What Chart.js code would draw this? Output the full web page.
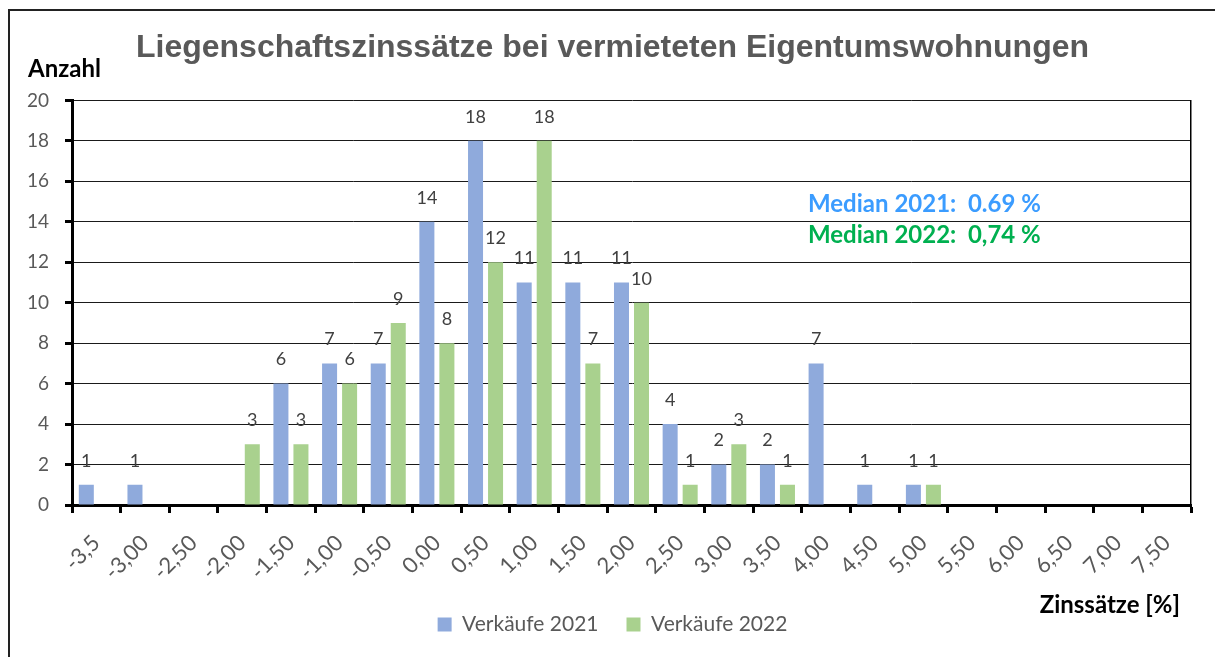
<!DOCTYPE html>
<html>
<head>
<meta charset="utf-8">
<script src="https://cdn.jsdelivr.net/npm/chart.js@4.4.0/dist/chart.umd.min.js"></script>
<style>
  html, body { margin: 0; padding: 0; background: #fff; }
  canvas { display: block; }
</style>
</head>
<body>
<canvas id="graph" width="1215" height="657"></canvas>
<script>
// categories (interest rate classes)
const zinsLabels = ['-3,5', '-3,00', '-2,50', '-2,00', '-1,50', '-1,00', '-0,50', '0,00', '0,50', '1,00', '1,50', '2,00',
  '2,50', '3,00', '3,50', '4,00', '4,50', '5,00', '5,50', '6,00', '6,50', '7,00', '7,50'];

// number of sales per class
const sales2021 = [1, 1, 0, 0, 6, 7, 7, 14, 18, 11, 11, 11, 4, 2, 2, 7, 1, 1, 0, 0, 0, 0, 0];
const sales2022 = [0, 0, 0, 3, 3, 6, 9, 8, 12, 18, 7, 10, 1, 3, 1, 0, 0, 1, 0, 0, 0, 0, 0];

const seriesNames = ['Verkäufe 2021', 'Verkäufe 2022'];
const medianTexts = ['Median 2021:  0.69 %', 'Median 2022:  0,74 %'];
const yTicks = [0, 2, 4, 6, 8, 10, 12, 14, 16, 18, 20];

const fontMain = 'Lato, "Open Sans", sans-serif';
const grayText = '#595959';

// frame, value labels and free texts
const extras = {
  id: 'extras',
  beforeDraw(chart) {
    const ctx = chart.ctx;
    ctx.save();
    ctx.fillStyle = '#fff';
    ctx.fillRect(0, 0, chart.width, chart.height);
    ctx.strokeStyle = '#222';
    ctx.lineWidth = 2;
    ctx.beginPath();
    ctx.moveTo(9, chart.height);
    ctx.lineTo(9, 10);
    ctx.lineTo(chart.width, 10);
    ctx.stroke();
    ctx.restore();
  },
  afterDatasetsDraw(chart) {
    const ctx = chart.ctx;
    ctx.save();
    ctx.font = '18px ' + fontMain;
    ctx.fillStyle = '#404040';
    ctx.textAlign = 'center';
    ctx.textBaseline = 'middle';
    chart.data.datasets.forEach((ds, i) => {
      chart.getDatasetMeta(i).data.forEach((bar, j) => {
        if (ds.data[j] > 0) ctx.fillText(ds.data[j], bar.x, bar.y - 24);
      });
    });
    ctx.restore();
  },
  afterDraw(chart) {
    const ctx = chart.ctx;
    ctx.save();
    ctx.fillStyle = '#000';
    ctx.font = 'bold 24px ' + fontMain;
    ctx.textBaseline = 'alphabetic';
    ctx.textAlign = 'left';
    ctx.fillText('Anzahl', 28, 77);
    ctx.textAlign = 'right';
    ctx.fillText('Zinssätze [%]', 1180, 613);

    ctx.textAlign = 'left';
    ctx.font = 'bold 24px ' + fontMain;
    ctx.fillStyle = '#3b9cff';
    ctx.fillText(medianTexts[0], 808, 212);
    ctx.fillStyle = '#00b050';
    ctx.fillText(medianTexts[1], 808, 243);
    ctx.restore();
  }
};

const config = {
  type: 'bar',
  data: {
    labels: zinsLabels,
    datasets: [{
      label: seriesNames[0],
      data: sales2021,
      yAxisID: 'y',
      backgroundColor: '#8faadc',
      categoryPercentage: 0.823,
      barPercentage: 0.75
    },
    {
      label: seriesNames[1],
      data: sales2022,
      yAxisID: 'y',
      backgroundColor: '#a9d18e',
      categoryPercentage: 0.823,
      barPercentage: 0.75
    }]
  },
  options: {
    responsive: false,
    devicePixelRatio: 1,
    animation: false,
    layout: { padding: { left: 20, right: 10, top: 0, bottom: 12 } },
    scales: {
      x: {
        offset: true,
        grid: {
          offset: true,
          drawOnChartArea: false,
          drawTicks: true,
          tickLength: 8,
          tickWidth: 3,
          tickColor: '#000'
        },
        border: { color: '#000', width: 3 },
        ticks: {
          autoSkip: false,
          minRotation: 45,
          maxRotation: 45,
          padding: 17,
          color: grayText,
          font: { family: fontMain, size: 22 }
        },
        afterFit(scale) { scale.height = 81; }
      },
      y: {
        min: 0,
        max: 20,
        afterBuildTicks(scale) { scale.ticks = yTicks.map(v => ({ value: v })); },
        grid: {
          color: '#1a1a1a',
          lineWidth: 1,
          tickLength: 7,
          tickWidth: 3,
          tickColor: '#000'
        },
        border: { color: '#000', width: 3 },
        ticks: {
          padding: 16,
          color: grayText,
          font: { family: fontMain, size: 19 }
        },
        afterFit(scale) { scale.width = 52; }
      },
      // right frame line of the plot area
      y2: {
        position: 'right',
        min: 0,
        max: 20,
        grid: { drawOnChartArea: false, drawTicks: false },
        ticks: { display: false },
        border: { color: '#000', width: 1.5 },
        afterFit(scale) { scale.width = 14; }
      }
    },
    plugins: {
      title: {
        display: true,
        text: 'Liegenschaftszinssätze bei vermieteten Eigentumswohnungen',
        color: grayText,
        font: { family: '"Liberation Sans", Arial, sans-serif', size: 32, weight: 'bold' },
        padding: { top: 29, bottom: 33 }
      },
      legend: {
        position: 'bottom',
        labels: {
          boxWidth: 14,
          boxHeight: 14,
          padding: 28,
          color: grayText,
          font: { family: fontMain, size: 21 }
        }
      },
      tooltip: { enabled: false }
    }
  },
  plugins: [extras]
};

const salesChart = new Chart(document.getElementById('graph'), config);
</script>
</body>
</html>
